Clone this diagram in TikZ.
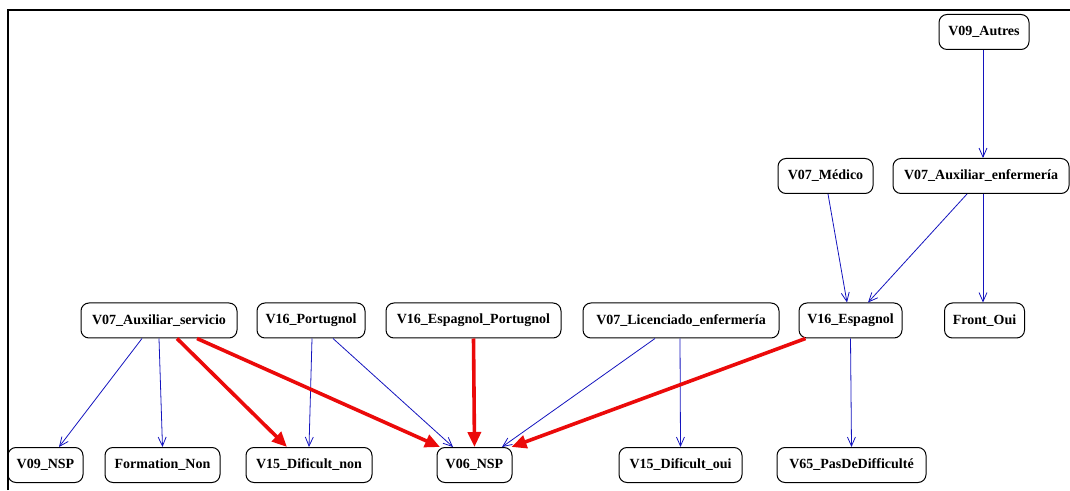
\documentclass[tikz,border=0pt]{standalone}
\usepackage{fontspec}
\setmainfont{Liberation Serif}
\usepackage{tikz}
\usetikzlibrary{arrows.meta}

\begin{document}
\begin{tikzpicture}[x=1pt, y=1pt,
  var/.style={shape=rectangle, rounded corners=8pt, draw=black, line width=1pt,
    minimum height=35pt, inner xsep=5pt, font=\fontsize{14}{16}\selectfont\bfseries},
  weak/.style={draw={rgb,255:red,20;green,20;blue,190}, line width=0.8pt,
    -{Straight Barb[length=9pt, width=8pt]}},
  strong/.style={draw={rgb,255:red,235;green,10;blue,10}, line width=3.6pt,
    -{Triangle[length=15pt, width=13pt]}}]

\useasboundingbox (0,0) rectangle (1070,490);
\draw[line width=2.5pt] (8,0) -- (8,480) -- (1071,480);

\node[var, minimum width=90pt](autres) at (984,458) {V09\_Autres};
\node[var, minimum width=95pt](medico) at (825.5,314) {V07\_Médico};
\node[var, minimum width=176pt](auxenf) at (981,314) {V07\_Auxiliar\_enfermería};

\node[var, minimum width=156pt](auxserv) at (159,169.5) {V07\_Auxiliar\_servicio};
\node[var, minimum width=108pt](portugnol) at (311,169.5) {V16\_Portugnol};
\node[var, minimum width=175pt](espport) at (473.5,169.5) {V16\_Espagnol\_Portugnol};
\node[var, minimum width=196pt](licenc) at (681,169.5) {V07\_Licenciado\_enfermería};
\node[var, minimum width=103pt](espagnol) at (850.5,169.5) {V16\_Espagnol};
\node[var, minimum width=80pt](frontoui) at (984.5,169.5) {Front\_Oui};

\node[var, minimum width=75pt](v09nsp) at (45.5,25) {V09\_NSP};
\node[var, minimum width=115pt](formnon) at (162.5,25) {Formation\_Non};
\node[var, minimum width=126pt](difnon) at (309,25) {V15\_Dificult\_non};
\node[var, minimum width=75pt](v06nsp) at (474.5,25) {V06\_NSP};
\node[var, minimum width=123pt](difoui) at (680.5,25) {V15\_Dificult\_oui};
\node[var, minimum width=149pt](v65) at (851.5,25) {V65\_PasDeDifficulté};


\draw[weak] ([xshift=-1pt]autres.south) -- ([xshift=2pt]auxenf.north);
\draw[weak] ([xshift=2.5pt]medico.south) -- ([xshift=-3.5pt]espagnol.north);
\draw[weak] ([xshift=-14pt]auxenf.south) -- ([xshift=17.5pt]espagnol.north);
\draw[weak] ([xshift=2pt]auxenf.south) -- ([xshift=-1.5pt]frontoui.north);

\draw[weak] ([xshift=-17pt]auxserv.south) -- ([xshift=13.5pt]v09nsp.north);
\draw[weak] (auxserv.south) -- (formnon.north);
\draw[weak] ([xshift=1pt]portugnol.south) -- (difnon.north);
\draw[weak] ([xshift=22pt]portugnol.south) -- ([xshift=-21.5pt]v06nsp.north);
\draw[weak] ([xshift=-26pt]licenc.south) -- ([xshift=27.5pt]v06nsp.north);
\draw[weak] ([xshift=-1pt]licenc.south) -- (difoui.north);
\draw[weak] (espagnol.south) -- (v65.north);

\draw[strong] ([xshift=18pt]auxserv.south) -- ([xshift=-22pt]difnon.north);
\draw[strong] ([xshift=38pt]auxserv.south) -- ([xshift=-34.5pt]v06nsp.north);
\draw[strong] (espport.south) -- (v06nsp.north);
\draw[strong] ([xshift=-45pt]espagnol.south) -- ([xshift=37pt]v06nsp.north);
\end{tikzpicture}
\end{document}
